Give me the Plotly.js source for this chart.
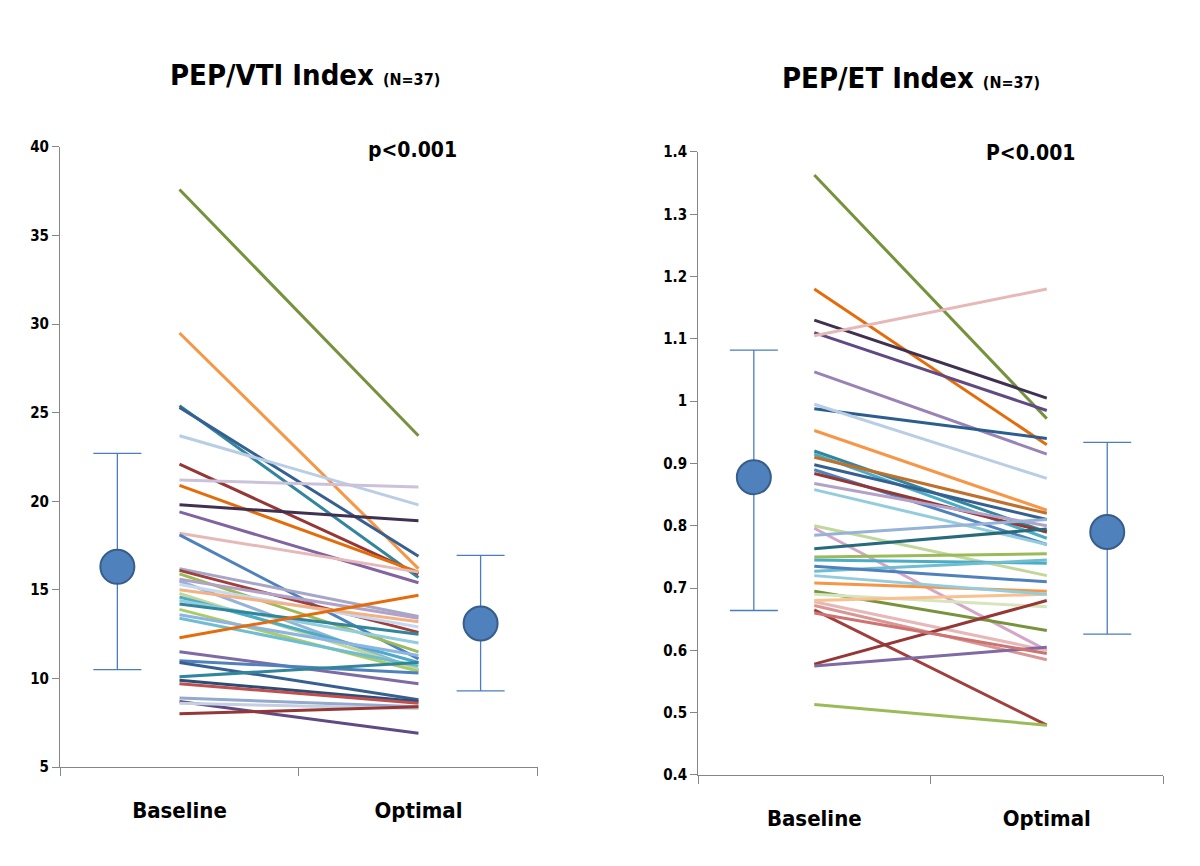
<!DOCTYPE html>
<html>
<head>
<meta charset="utf-8">
<script src="https://cdn.plot.ly/plotly-3.0.1.min.js"></script>
<style>html,body{margin:0;padding:0;background:#fff;}#chart{width:1200px;height:866px;}</style>
</head>
<body>
<div id="chart"></div>
<script>
// ---------- data ----------
var categories = ['Baseline', 'Optimal'];
var catX = [0, 1];

// PEP/VTI index (left panel), one value per patient
var vtiBaseline = [37.6, 29.5, 25.4, 25.3, 23.7, 22.1, 21.2, 20.9, 19.8, 19.4, 18.2, 18.1, 16.2, 16.1, 15.9, 15.6, 15.5, 15.3, 15.0, 14.8, 14.6, 14.4, 14.2, 13.9, 13.6, 13.4, 12.3, 11.5, 11.0, 10.9, 10.1, 9.9, 9.7, 8.9, 8.7, 8.6, 8.0];
var vtiOptimal  = [23.7, 16.2, 15.7, 16.9, 19.8, 15.9, 20.8, 16.0, 18.9, 15.4, 16.0, 11.1, 13.5, 12.6, 11.5, 13.4, 10.5, 12.9, 13.2, 10.5, 10.9, 12.0, 12.5, 10.4, 11.3, 10.7, 14.7, 9.7, 10.3, 8.8, 10.9, 8.7, 8.6, 8.4, 6.9, 8.3, 8.4];

// PEP/ET index (right panel)
var etBaseline = [1.363, 1.18, 1.13, 1.11, 1.105, 1.047, 0.988, 0.995, 0.953, 0.92, 0.915, 0.91, 0.898, 0.89, 0.884, 0.868, 0.858, 0.80, 0.796, 0.785, 0.763, 0.75, 0.745, 0.727, 0.735, 0.708, 0.695, 0.69, 0.678, 0.68, 0.672, 0.665, 0.578, 0.575, 0.513, 0.72, 0.66];
var etOptimal  = [0.972, 0.93, 1.005, 0.985, 1.18, 0.915, 0.94, 0.876, 0.825, 0.79, 0.78, 0.82, 0.81, 0.77, 0.79, 0.80, 0.77, 0.72, 0.60, 0.81, 0.795, 0.755, 0.74, 0.745, 0.71, 0.695, 0.632, 0.67, 0.60, 0.69, 0.585, 0.48, 0.68, 0.605, 0.48, 0.69, 0.595];

// group means and error bars
var meanX = [-0.26, 1.26];
var vtiMean      = [16.3, 13.1];
var vtiErrPlus   = [6.4, 3.85];
var vtiErrMinus  = [5.8, 3.8];
var etMean       = [0.878, 0.79];
var etErrPlus    = [0.204, 0.144];
var etErrMinus   = [0.214, 0.164];

var yTicksVti = [5, 10, 15, 20, 25, 30, 35, 40];
var yTicksEt  = [0.4, 0.5, 0.6, 0.7, 0.8, 0.9, 1, 1.1, 1.2, 1.3, 1.4];

// ---------- styles ----------
var vtiColors = ['#76923C','#F79646','#31859C','#376092','#B9CDE5','#953735','#CCC1DA','#E46C0A','#403152','#8064A2',
                 '#E6B9B8','#4F81BD','#A6A6C8','#A0403D','#9BBB59','#B3A2C7','#95B3D7','#C6D9F1','#F4B183','#C3D69B',
                 '#4BACC6','#93CDDD','#31869B','#AACC66','#8DB4E2','#6FBDD1','#E46C0A','#7F6AA4','#4F81BD','#376092',
                 '#31859C','#2C4D75','#C0504D','#93A9CF','#5F4A84','#C5CFE0','#953735'];
var etColors  = ['#76923C','#E46C0A','#403152','#5F4A84','#E6B9B8','#9983B5','#2C5D8F','#B9CDE5','#F79646','#31859C',
                 '#4BACC6','#C0702D','#376092','#4F81BD','#953735','#B3A2C7','#93CDDD','#C3D69B','#D6A6C8','#95B3D7',
                 '#276A7C','#9BBB59','#4BACC6','#6FBDD1','#4F81BD','#F79646','#77933C','#D7E4BD','#E6B9B8','#FAC090',
                 '#D99694','#A0403D','#953735','#7F6AA4','#9BBB59','#93CDDD','#CD7371'];

var FONT = '"DejaVu Sans Condensed", "DejaVu Sans", sans-serif';
var AXC = '#868686';

var traces = [];
function addPanel(base, opt, colors, xa, ya) {
  for (var i = 0; i < base.length; i++) {
    traces.push({
      type: 'scatter', mode: 'lines', x: catX, y: [base[i], opt[i]],
      xaxis: xa, yaxis: ya, hoverinfo: 'skip', showlegend: false,
      line: {color: colors[i], width: 3}
    });
  }
}
addPanel(vtiBaseline, vtiOptimal, vtiColors, 'x', 'y');
addPanel(etBaseline, etOptimal, etColors, 'x2', 'y2');

function meanTrace(means, plus, minus, xa, ya) {
  return {
    type: 'scatter', mode: 'markers', x: meanX, y: means, xaxis: xa, yaxis: ya,
    showlegend: false, hoverinfo: 'skip',
    marker: {symbol: 'circle', size: 34, color: '#4F81BD', line: {color: '#385D8A', width: 2}},
    error_y: {type: 'data', symmetric: false, array: plus, arrayminus: minus, visible: true,
              color: '#4A7EBB', thickness: 1.3, width: 24}
  };
}
traces.push(meanTrace(vtiMean, vtiErrPlus, vtiErrMinus, 'x', 'y'));
traces.push(meanTrace(etMean, etErrPlus, etErrMinus, 'x2', 'y2'));

function xAxis(domain, anchor) {
  return {
    domain: domain, anchor: anchor, range: [-0.5, 1.5], type: 'linear',
    tickmode: 'array', tickvals: catX, ticktext: categories.map(function(c){return '<b>' + c + '</b>';}),
    ticks: 'outside', ticklen: 24, tickcolor: 'rgba(0,0,0,0)',
    tickfont: {family: FONT, size: 22, color: '#000'},
    showline: true, linecolor: AXC, linewidth: 1, showgrid: false, zeroline: false, fixedrange: true,
    minor: {tickmode: 'array', tickvals: [-0.5, 0.5, 1.5], ticks: 'outside', ticklen: 8, tickcolor: AXC, tickwidth: 1, showgrid: false}
  };
}
function yAxis(domain, anchor, range, tickvals) {
  return {
    domain: domain, anchor: anchor, range: range,
    tickmode: 'array', tickvals: tickvals, ticktext: tickvals.map(function(v){return '<b>' + v + '</b>';}),
    ticks: 'outside', ticklen: 7, tickcolor: AXC, tickwidth: 1,
    tickfont: {family: FONT, size: 15, color: '#000'},
    showline: true, linecolor: AXC, linewidth: 1, showgrid: false, zeroline: false, fixedrange: true
  };
}

var layout = {
  width: 1200, height: 866,
  margin: {l: 0, r: 0, t: 0, b: 0},
  paper_bgcolor: '#fff', plot_bgcolor: '#fff',
  showlegend: false,
  xaxis: xAxis([0.05, 0.4483], 'y'),
  yaxis: yAxis([0.1143, 0.8303], 'x', [5, 40], yTicksVti),
  xaxis2: xAxis([0.5817, 0.9692], 'y2'),
  yaxis2: yAxis([0.1051, 0.8245], 'x2', [0.4, 1.4], yTicksEt),
  annotations: [
    {xref: 'paper', yref: 'paper', x: 0.254, y: 0.913, xanchor: 'center', yanchor: 'middle', showarrow: false,
     text: '<b>PEP/VTI Index <span style="font-size:16px">(N=37)</span></b>', font: {family: FONT, size: 29, color: '#000'}},
    {xref: 'paper', yref: 'paper', x: 0.759, y: 0.91, xanchor: 'center', yanchor: 'middle', showarrow: false,
     text: '<b>PEP/ET Index <span style="font-size:16px">(N=37)</span></b>', font: {family: FONT, size: 29, color: '#000'}},
    {xref: 'paper', yref: 'paper', x: 0.344, y: 0.827, xanchor: 'center', yanchor: 'middle', showarrow: false,
     text: '<b>p&lt;0.001</b>', font: {family: FONT, size: 21, color: '#000'}},
    {xref: 'paper', yref: 'paper', x: 0.859, y: 0.823, xanchor: 'center', yanchor: 'middle', showarrow: false,
     text: '<b>P&lt;0.001</b>', font: {family: FONT, size: 21, color: '#000'}}
  ]
};

Plotly.newPlot('chart', traces, layout, {displayModeBar: false, staticPlot: true});
</script>
</body>
</html>
